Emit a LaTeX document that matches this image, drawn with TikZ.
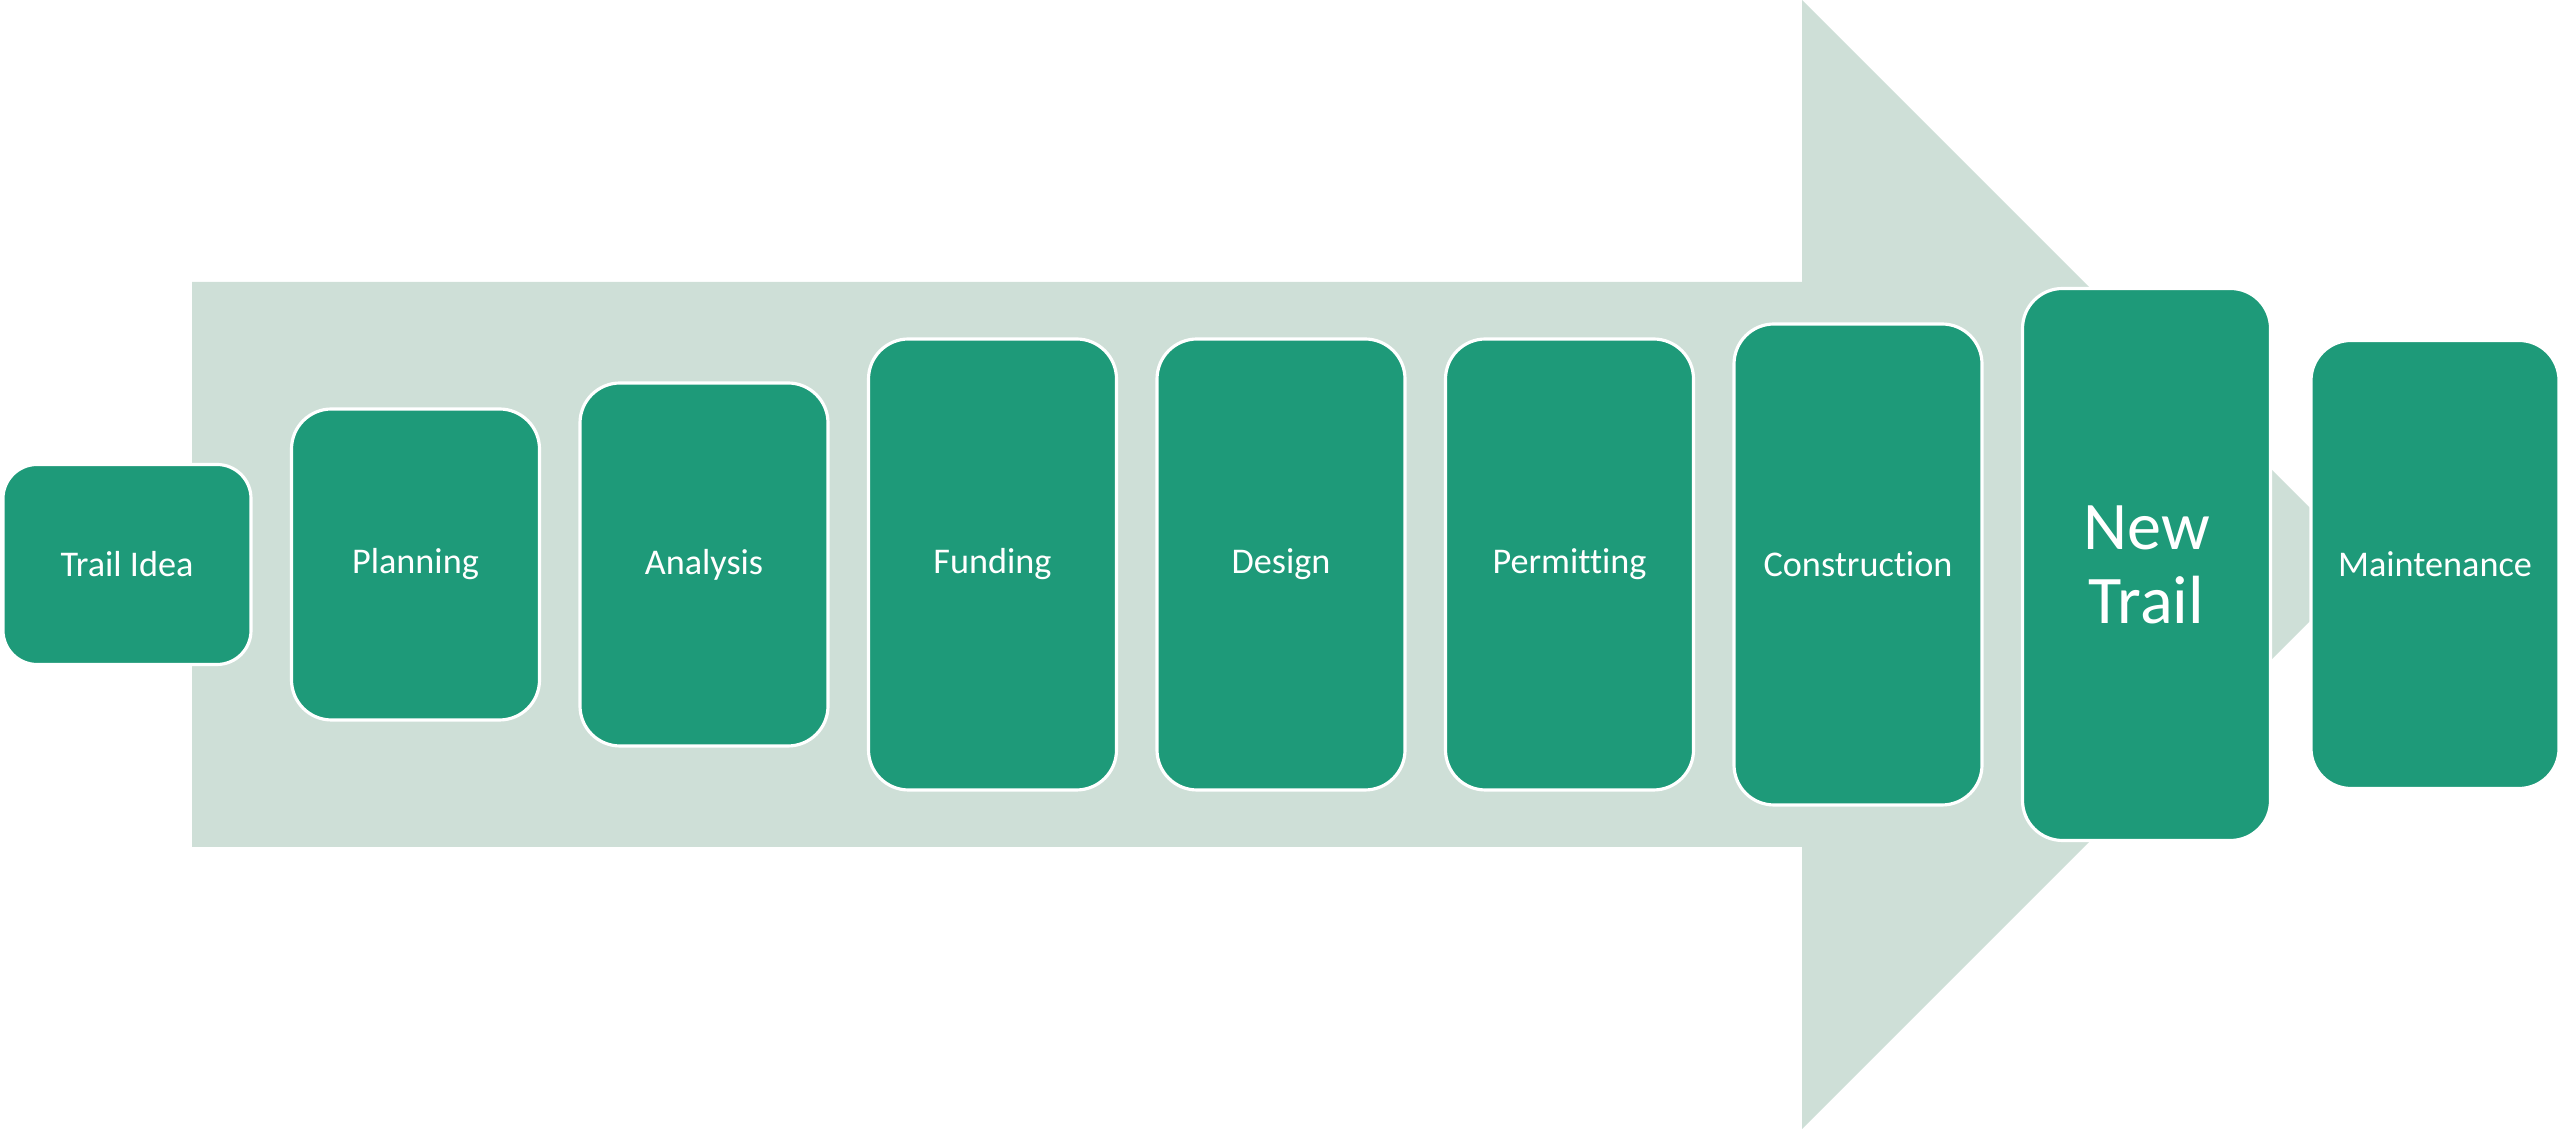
\documentclass[tikz,border=0pt]{standalone}
\usepackage{fontspec}
\setmainfont{Carlito}[Ligatures=NoCommon]
\usetikzlibrary{positioning}
\definecolor{stepgreen}{RGB}{30,154,121}
\definecolor{arrowgrey}{RGB}{206,223,215}
\tikzset{
	stagebox/.style={rectangle, rounded corners=0.4cm, fill=stepgreen, draw=white, line width=0.9pt,
		outer sep=0pt, minimum width=2.48cm, text=white, align=center, font=\fontsize{10.3}{12}\selectfont},
}

\begin{document}
\begin{tikzpicture}[node distance=0.405cm]
		%%%%% START %%%%%
		\useasboundingbox (0, 0) rectangle (25.6, 11.29);
		
		\fill[arrowgrey] (1.92, 2.82) -- (1.92, 8.47) -- (18.02, 8.47) -- (18.02, 11.29)
			-- (23.665, 5.645) -- (18.02, 0) -- (18.02, 2.82) -- cycle;
		
		\node[stagebox, minimum height=2.00cm, rounded corners=0.34cm] (idea) at (1.27, 5.645) {Trail Idea};
		\node[stagebox, minimum height=3.11cm, right=of idea] (planning) {Planning};
		\node[stagebox, minimum height=3.63cm, right=of planning] (analysis) {Analysis};
		\node[stagebox, minimum height=4.51cm, right=of analysis] (funding) {Funding};
		\node[stagebox, minimum height=4.51cm, right=of funding] (design) {Design};
		\node[stagebox, minimum height=4.51cm, right=of design] (permitting) {Permitting};
		\node[stagebox, minimum height=4.81cm, right=of permitting] (construction) {Construction};
		\node[stagebox, minimum height=5.52cm, right=of construction,
			font=\fontsize{19.4}{21}\selectfont] (newtrail) {New\\Trail};
		\node[stagebox, minimum height=4.48cm, right=of newtrail] (maintenance) {Maintenance};
		
		%%%%% END %%%%%
\end{tikzpicture}
\end{document}
